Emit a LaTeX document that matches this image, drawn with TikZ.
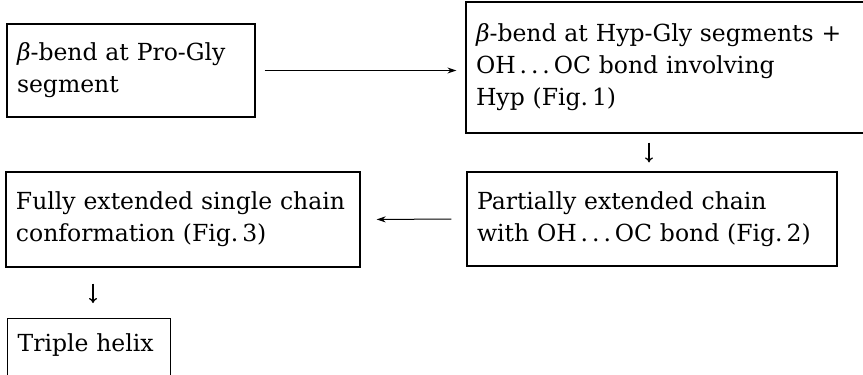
\documentclass[tikz,border=0pt]{standalone}
\usepackage{fontspec}
\setmainfont{DejaVu Serif}
\usetikzlibrary{arrows.meta}
\begin{document}
\begin{tikzpicture}[x=1pt,y=-1pt,
  box/.style={draw, line width=1.2pt, inner xsep=10pt, inner ysep=0pt, align=left,
    font=\fontsize{23.5}{32}\selectfont},
  conn/.style={line width=1pt, -{Stealth[length=9pt,width=6pt]}},
  dconn/.style={line width=1.3pt, -{To[length=5pt,width=8pt]}}]
\useasboundingbox (0,0) rectangle (863,375);
\node[box, minimum width=248pt, minimum height=93pt, text width=228pt] (b1) at (131,70.5)
  {{\itshape β}-bend at Pro-Gly\\segment};
\node[box, minimum width=400pt, minimum height=131pt, text width=380pt] (b2) at (666,67.5)
  {{\itshape β}-bend at Hyp-Gly segments +\\OH\,.\,.\,.\,OC bond involving\\Hyp (Fig.\,1)};
\node[box, minimum width=370pt, minimum height=94pt, text width=350pt] (b3) at (652,219)
  {Partially extended chain\\with OH\,.\,.\,.\,OC bond (Fig.\,2)};
\node[box, minimum width=354pt, minimum height=95pt, text width=334pt] (b4) at (183,219.5)
  {Fully extended single chain\\conformation (Fig.\,3)};
\node[box, minimum width=163pt, minimum height=0pt, text height=33pt, text depth=29pt,
  text width=143pt, anchor=north west] (b5) at (7,318)
  {Triple helix};
\coordinate (x1) at (649,0);
\coordinate (x2) at (93,0);
\draw[conn, shorten <=9pt, shorten >=9pt] (b1.east) -- (b1.east -| b2.west);
\draw[dconn, shorten <=9pt, shorten >=9pt] (b2.south -| x1) -- (b3.north -| x1);
\draw[conn, shorten <=15pt, shorten >=16pt] (b3.west) -- (b4.east);
\draw[dconn, shorten <=16pt, shorten >=15pt] (b4.south -| x2) -- (b5.north -| x2);
\end{tikzpicture}
\end{document}
